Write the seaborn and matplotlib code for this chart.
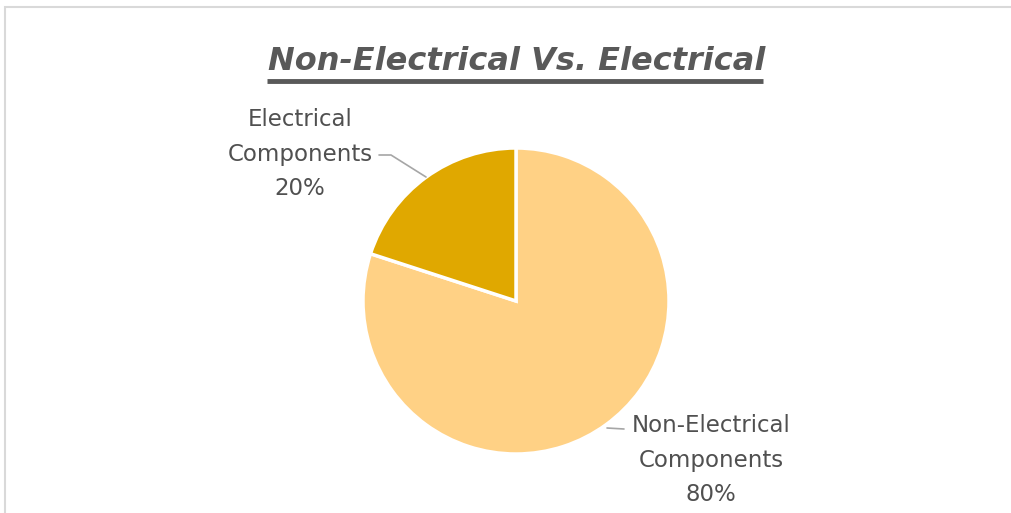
import matplotlib
matplotlib.use("Agg")
import matplotlib.pyplot as plt
import seaborn as sns
from matplotlib.patches import Rectangle
from matplotlib.lines import Line2D

categories = ["Non-Electrical\nComponents", "Electrical\nComponents"]
shares = [80, 20]
colors = ["#FFD185", "#E0A800"]
title = "Non-Electrical Vs. Electrical"

sns.set_theme(style="white")
plt.rcParams['font.family'] = ['DejaVu Sans']

W, H = 1011, 513
fig = plt.figure(figsize=(W / 100, H / 100), dpi=100)
fig.patch.set_facecolor("white")

cx, cy, R = 516, 301, 153
ax = fig.add_axes([(cx - R) / W, (H - cy - R) / H, 2 * R / W, 2 * R / H])
wedges, _ = ax.pie(shares, colors=colors, startangle=90, counterclock=False,
                   radius=1.0, wedgeprops=dict(edgecolor="white", linewidth=2.5))
ax.set_xlim(-1, 1)
ax.set_ylim(-1, 1)
ax.set_aspect("equal")
ax.axis("off")

def px2d(px, py):
    return ((px - cx) / R, (cy - py) / R)

txtc = "#505050"
fs_lab = 16.5
ls_lab = 1.62
# Electrical label
lx, ly = px2d(300, 154)
ax.text(lx, ly, f"{categories[1]}\n{shares[1]}%", ha="center", va="center",
        fontsize=fs_lab, color=txtc, linespacing=ls_lab, clip_on=False)
p0 = px2d(379, 155); p1 = px2d(391, 155); p2 = px2d(426, 177)
ax.add_line(Line2D([p0[0], p1[0], p2[0]], [p0[1], p1[1], p2[1]], color="#a6a6a6", lw=1.2, clip_on=False))

# Non-Electrical label
lx, ly = px2d(711, 460)
ax.text(lx, ly, f"{categories[0]}\n{shares[0]}%", ha="center", va="center",
        fontsize=fs_lab, color=txtc, linespacing=ls_lab, clip_on=False)
q0 = px2d(607, 428); q1 = px2d(624, 429)
ax.add_line(Line2D([q0[0], q1[0]], [q0[1], q1[1]], color="#a6a6a6", lw=1.2, clip_on=False))

# Title with underline
fig.text(517 / W, 1 - 70 / H, title, ha="center", va="baseline", fontsize=23,
         fontstyle="italic", fontweight="bold", color="#595959")
fig.add_artist(Line2D([267 / W, 763 / W], [1 - 81 / H, 1 - 81 / H], color="#595959", lw=3.5,
                      solid_capstyle="butt"))

# Outer border
fig.add_artist(Rectangle((5 / W, -0.1), 1.2, 1 - 7 / H + 0.1, fill=False,
                         edgecolor="#d9d9d9", lw=1.5, transform=fig.transFigure))

fig.savefig("out.png", dpi=100)
